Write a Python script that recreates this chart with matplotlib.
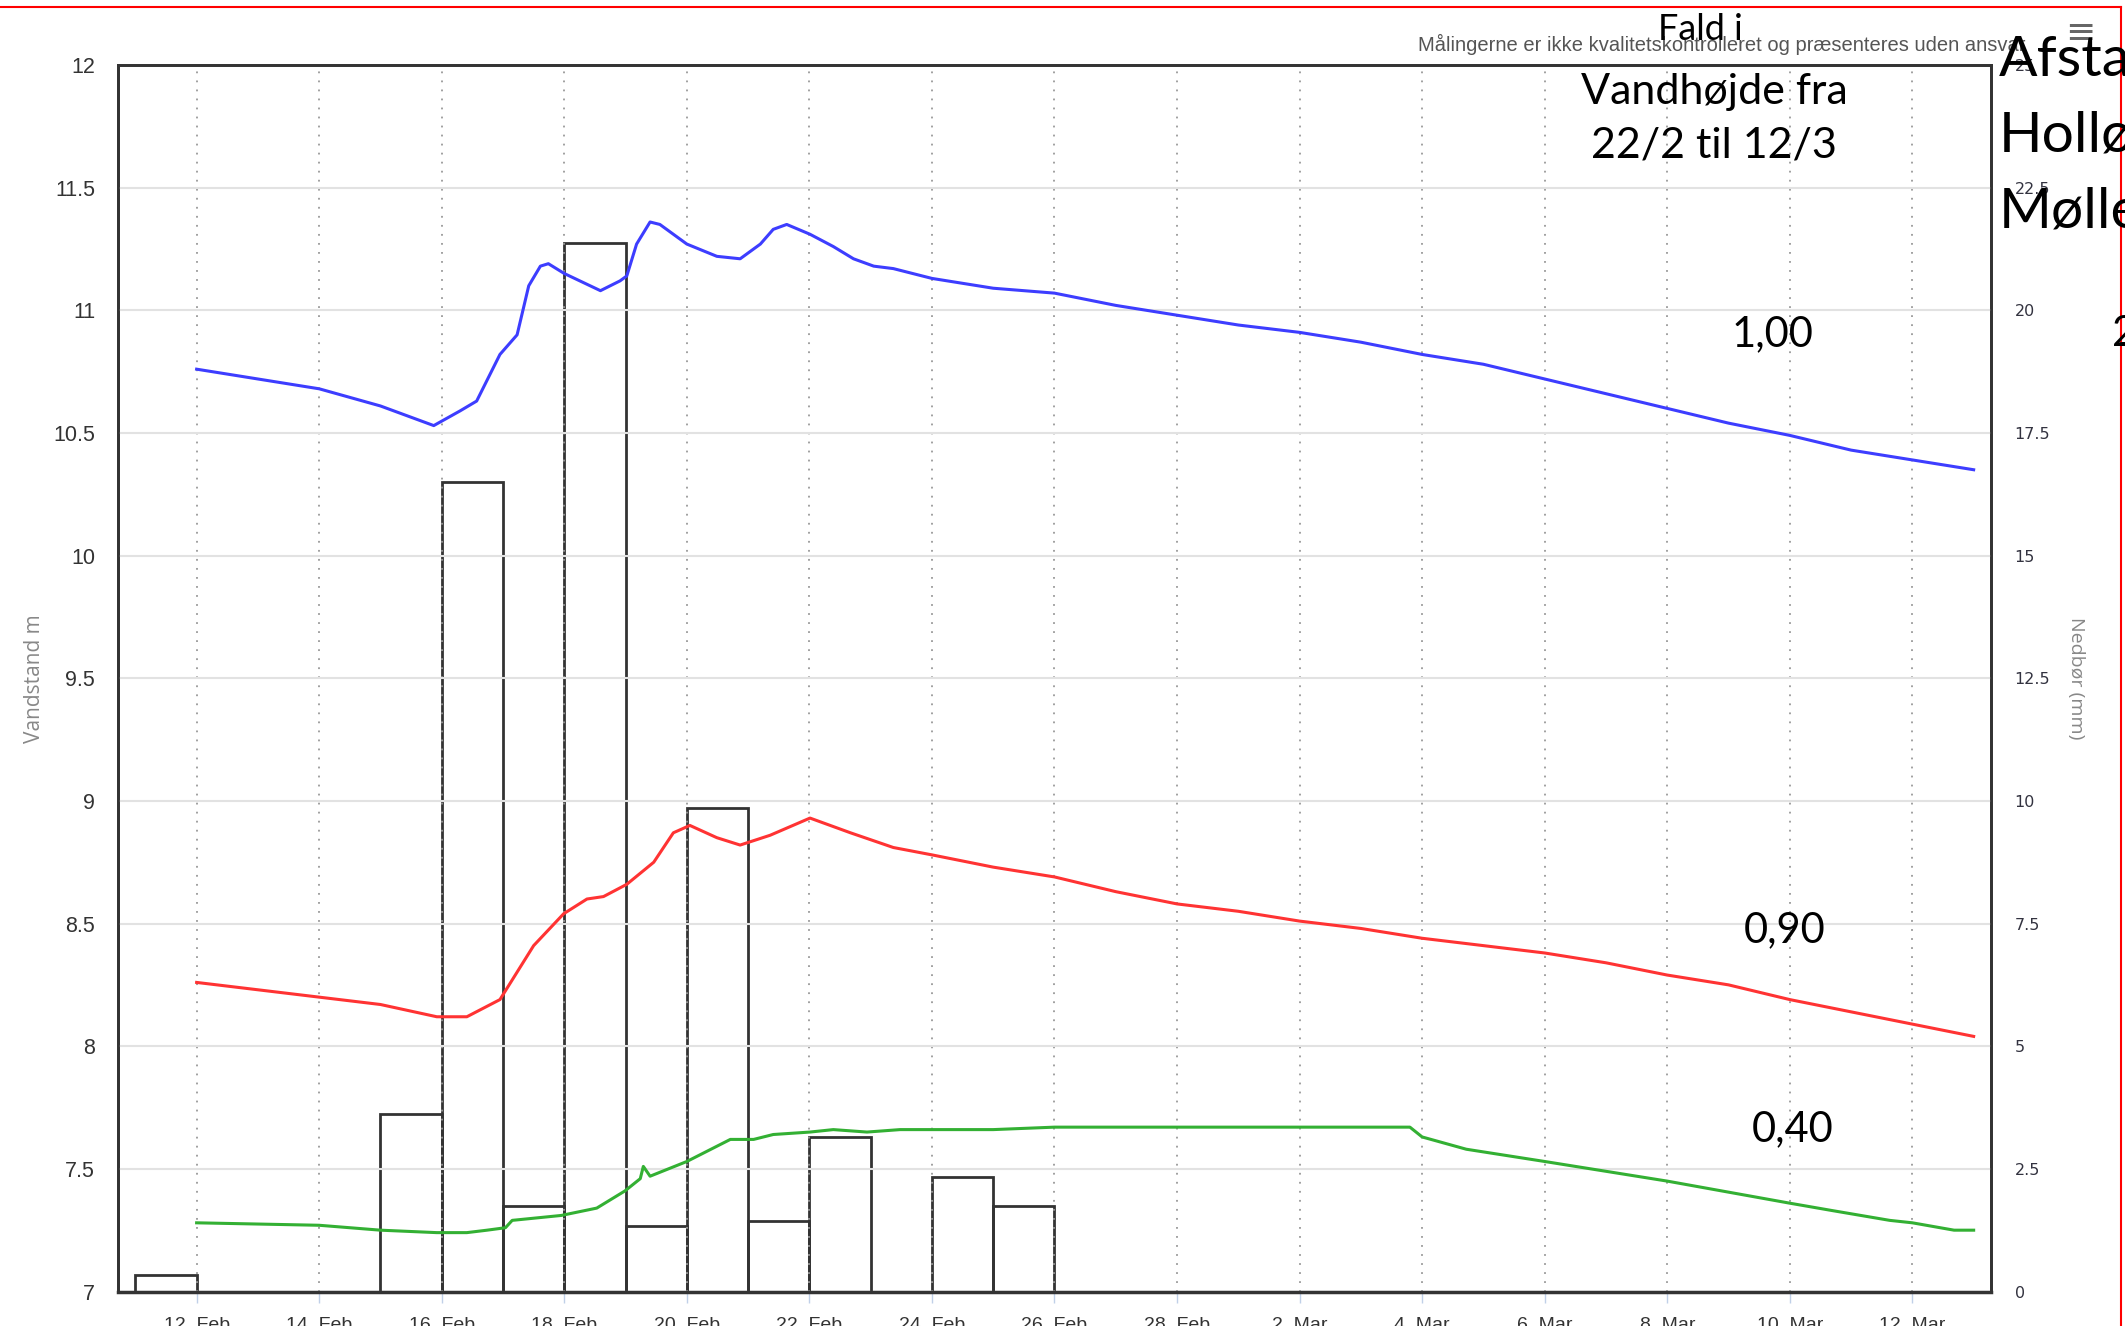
import numpy as np
import matplotlib
matplotlib.use("Agg")
import matplotlib.pyplot as plt
from matplotlib.lines import Line2D

# x values are day numbers counted from 1 Feb (1 Mar = 29, 13 Mar = 41)
BLUE_DAYS = [12, 13, 14, 15, 15.87, 16.3, 16.57, 16.95, 17.23, 17.42, 17.61, 17.74, 18.0,
             18.59, 18.91, 19.02, 19.18, 19.40, 19.56, 20.0, 20.49, 20.87, 21.2, 21.41, 21.63,
             22.01, 22.39, 22.72, 23.05, 23.37, 24, 25, 26, 27, 28, 29, 30, 31, 32, 33, 34,
             35, 36, 37, 38, 39, 40, 41]
BLUE_LEVEL = [10.76, 10.72, 10.68, 10.61, 10.53, 10.59, 10.63, 10.82, 10.90, 11.10, 11.18,
              11.19, 11.15, 11.08, 11.12, 11.14, 11.27, 11.36, 11.35, 11.27, 11.22, 11.21,
              11.27, 11.33, 11.35, 11.31, 11.26, 11.21, 11.18, 11.17, 11.13, 11.09, 11.07,
              11.02, 10.98, 10.94, 10.91, 10.87, 10.82, 10.78, 10.72, 10.66, 10.60, 10.54,
              10.49, 10.43, 10.39, 10.35]

RED_DAYS = [12, 13, 14, 15, 15.92, 16.41, 16.95, 17.5, 17.99, 18.37, 18.64, 19.02, 19.46,
            19.78, 20.05, 20.49, 20.87, 21.36, 22.01, 22.67, 23.37, 24, 25, 26, 27, 28, 29,
            30, 31, 32, 33, 34, 35, 36, 37, 38, 39, 40, 41]
RED_LEVEL = [8.26, 8.23, 8.20, 8.17, 8.12, 8.12, 8.19, 8.41, 8.54, 8.60, 8.61, 8.66, 8.75,
             8.87, 8.90, 8.85, 8.82, 8.86, 8.93, 8.87, 8.81, 8.78, 8.73, 8.69, 8.63, 8.58,
             8.55, 8.51, 8.48, 8.44, 8.41, 8.38, 8.34, 8.29, 8.25, 8.19, 8.14, 8.09, 8.04]

GREEN_DAYS = [12, 14, 15, 15.92, 16.41, 16.74, 17.04, 17.15, 17.95, 18.53, 18.99, 19.24,
              19.29, 19.40, 20.0, 20.71, 21.09, 21.41, 22.01, 22.39, 22.94, 23.48, 24, 25,
              26, 27, 28, 29, 30, 31, 31.8, 32.0, 32.72, 34, 36, 38, 38.69, 39.63, 40,
              40.68, 41]
GREEN_LEVEL = [7.28, 7.27, 7.25, 7.24, 7.24, 7.25, 7.26, 7.29, 7.31, 7.34, 7.41, 7.46, 7.51,
               7.47, 7.53, 7.62, 7.62, 7.64, 7.65, 7.66, 7.65, 7.66, 7.66, 7.66, 7.67, 7.67,
               7.67, 7.67, 7.67, 7.67, 7.67, 7.63, 7.58, 7.53, 7.45, 7.36, 7.33, 7.29, 7.28,
               7.25, 7.25]

RAIN_DAYS = [11, 15, 16, 17, 18, 19, 20, 21, 22, 24, 25]
RAIN_MM = [0.34, 3.62, 16.5, 1.74, 21.37, 1.34, 9.85, 1.44, 3.15, 2.34, 1.74]

TICK_DAYS = [12, 14, 16, 18, 20, 22, 24, 26, 28, 30, 32, 34, 36, 38, 40]
TICK_LABELS = ['12. Feb', '14. Feb', '16. Feb', '18. Feb', '20. Feb', '22. Feb', '24. Feb',
               '26. Feb', '28. Feb', '2. Mar', '4. Mar', '6. Mar', '8. Mar', '10. Mar',
               '12. Mar']
LEFT_TICKS = [7, 7.5, 8, 8.5, 9, 9.5, 10, 10.5, 11, 11.5, 12]
LEFT_LABELS = ['7', '7.5', '8', '8.5', '9', '9.5', '10', '10.5', '11', '11.5', '12']
RIGHT_TICKS = [0, 2.5, 5, 7.5, 10, 12.5, 15, 17.5, 20, 22.5, 25]
RIGHT_LABELS = ['0', '2.5', '5', '7.5', '10', '12.5', '15', '17.5', '20', '22.5', '25']

W, H = 2125, 1326
NARROW = ['Liberation Sans', 'DejaVu Sans']
SLIDE = ['Lato', 'DejaVu Sans']

fig = plt.figure(figsize=(W / 100, H / 100), dpi=100)
fig.patch.set_facecolor('white')

def px(x, y):
    return x / W, 1 - y / H

l, t = px(118, 65)
r, b = px(1991, 1291.5)
ax = fig.add_axes([l, b, r - l, t - b])
ax2 = ax.twinx()
ax.set_zorder(ax2.get_zorder() + 1)
ax.patch.set_visible(False)

# precipitation bars (right axis)
ax2.bar(RAIN_DAYS, RAIN_MM, width=1, align='edge', fill=False, edgecolor='#333333',
        linewidth=2)
ax2.set_ylim(0, 25)
ax2.set_yticks(RIGHT_TICKS)
ax2.set_yticklabels(RIGHT_LABELS, fontsize=11.5, color='#333340', family='DejaVu Sans')
ax2.tick_params(axis='y', length=0, pad=17)
ax2.set_ylabel('Nedbør (mm)', rotation=270, fontsize=14, color='#888888',
               family=['Open Sans', 'DejaVu Sans'], labelpad=0)
ax2.yaxis.set_label_coords((2085 - 118) / (1991 - 118), 0.5)

# water level lines (left axis)
ax.plot(BLUE_DAYS, BLUE_LEVEL, color='#3d3dff', lw=2.2)
ax.plot(RED_DAYS, RED_LEVEL, color='#ff3333', lw=2.2)
ax.plot(GREEN_DAYS, GREEN_LEVEL, color='#33b033', lw=2.2)

ax.set_xlim(10.717, 41.283)
ax.set_ylim(7, 12)
ax.set_yticks(LEFT_TICKS)
ax.set_yticklabels(LEFT_LABELS, fontsize=15.5, color='#333333', family=NARROW)
ax.tick_params(axis='y', length=0, pad=16.5)
ax.set_xticks(TICK_DAYS)
ax.set_xticklabels(TICK_LABELS, fontsize=14, color='#333333', family=NARROW)
ax.tick_params(axis='x', length=8, width=1, color='#c0d0e8', pad=10)
ax.grid(axis='y', color='#e2e2e2', lw=1.5)
ax.grid(axis='x', color='#999999', lw=1.3, linestyle=(0, (1, 4)))
ax.set_axisbelow(True)
ax.set_ylabel('Vandstand m', fontsize=15, color='#888888', family=['Open Sans', 'DejaVu Sans'])
ax.yaxis.set_label_coords(-(118 - 45) / (1991 - 118), 0.5)

for a in (ax, ax2):
    for s in a.spines.values():
        s.set_color('#333333')
        s.set_linewidth(2)
ax.spines['bottom'].set_linewidth(2.5)

# header note and slide annotations
fig.text(*px(1418, 44), 'Målingerne er ikke kvalitetskontrolleret og præsenteres uden ansvar',
         fontsize=14.5, color='#555555', family=NARROW, ha='left', va='center')
fig.text(*px(2080, 32), '≡', fontsize=26, color='#666666', ha='center', va='center')

fig.text(*px(1700, 30), 'Fald i', fontsize=26, family=SLIDE, ha='center', va='center')
fig.text(*px(1714, 92), 'Vandhøjde fra', fontsize=31, family=SLIDE, ha='center', va='center')
fig.text(*px(1714, 145), '22/2 til 12/3', fontsize=31, family=SLIDE, ha='center', va='center')
fig.text(*px(1772, 334), '1,00', fontsize=30, family=SLIDE, ha='center', va='center')
fig.text(*px(1785, 930), '0,90', fontsize=30, family=SLIDE, ha='center', va='center')
fig.text(*px(1793, 1129), '0,40', fontsize=30, family=SLIDE, ha='center', va='center')

fig.text(*px(1999, 61), 'Afstand', fontsize=41, family=SLIDE, ha='left', va='center')
fig.text(*px(1999, 136), 'Holløse', fontsize=41, family=SLIDE, ha='left', va='center')
fig.text(*px(1999, 212), 'Mølle', fontsize=41, family=SLIDE, ha='left', va='center')
fig.text(*px(2112, 334), '2', fontsize=30, family=SLIDE, ha='left', va='center')

# red frame of the pasted screenshot
fig.add_artist(Line2D([0, 1 - 4 / W], [1 - 7 / H, 1 - 7 / H], color='red', lw=1.5,
                      transform=fig.transFigure))
fig.add_artist(Line2D([1 - 4 / W, 1 - 4 / W], [0, 1 - 7 / H], color='red', lw=1.5,
                      transform=fig.transFigure))

fig.savefig('out.png', dpi=100)
